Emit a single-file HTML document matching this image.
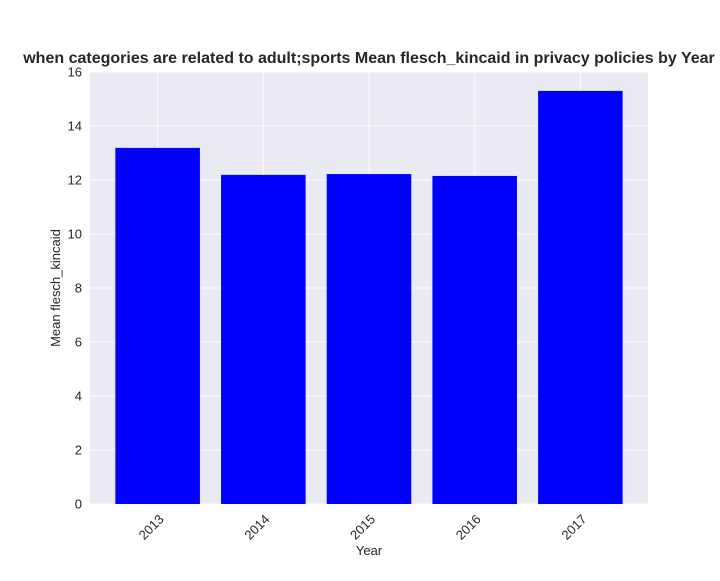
<!DOCTYPE html>
<html><head><meta charset="utf-8"><style>
body{margin:0;background:#fff;}
svg text{font-family:"Liberation Sans","DejaVu Sans",sans-serif;fill:#262626;}
</style></head><body>
<svg id="chart" width="720" height="576">
<rect x="0" y="0" width="720" height="576" fill="#fff"/>
<rect x="90" y="72" width="558" height="432" fill="#eaeaf2"/>
<g id="grid"></g><g id="bars"></g><g id="ticks"></g>
<text x="369" y="63" text-anchor="middle" font-size="16" font-weight="bold">when categories are related to adult;sports Mean flesch_kincaid in privacy policies by Year</text>
<text x="369" y="555" text-anchor="middle" font-size="13">Year</text>
<text x="60" y="288" text-anchor="middle" font-size="13" transform="rotate(-90 60 288)">Mean flesch_kincaid</text>
</svg>
<script>
const categories=["2013","2014","2015","2016","2017"];
const values=[13.19,12.19,12.22,12.15,15.30];
const yTicks=[0,2,4,6,8,10,12,14,16];
const NS="http://www.w3.org/2000/svg";
const L=90,R=648,T=72,B=504,yMax=16;
const unit=(R-L)/5.28;
const xs=i=>L+(i+0.64)*unit;
const ys=v=>B-(v/yMax)*(B-T);
const grid=document.getElementById('grid'),bars=document.getElementById('bars'),ticks=document.getElementById('ticks');
function mk(tag,attrs,parent){const e=document.createElementNS(NS,tag);for(const k in attrs)e.setAttribute(k,attrs[k]);parent.appendChild(e);return e;}
yTicks.forEach(t=>{
 const g=mk('line',{x1:L,x2:R,y1:ys(t),y2:ys(t),stroke:'#fff','stroke-width':1},grid);
 
 
 const tx=mk('text',{x:L-8,y:ys(t)+4.5,'text-anchor':'end','font-size':13},ticks);
 tx.textContent=t;
 
 
});
categories.forEach((c,i)=>{
 const x=xs(i);
 const g=mk('line',{x1:x,x2:x,y1:T,y2:B,stroke:'#fff','stroke-width':1},grid);
 
 
 const w=0.8*unit;
 const b=mk('rect',{x:x-w/2,y:ys(values[i]),width:w,height:B-ys(values[i]),fill:'#0000ff'},bars);
 
 
 const tx=mk('text',{x:x+7,y:B+16,'text-anchor':'end','font-size':13,transform:`rotate(-45 ${x+7} ${B+16})`},ticks);
 tx.textContent=c;
 
 
});
</script>
</body></html>
